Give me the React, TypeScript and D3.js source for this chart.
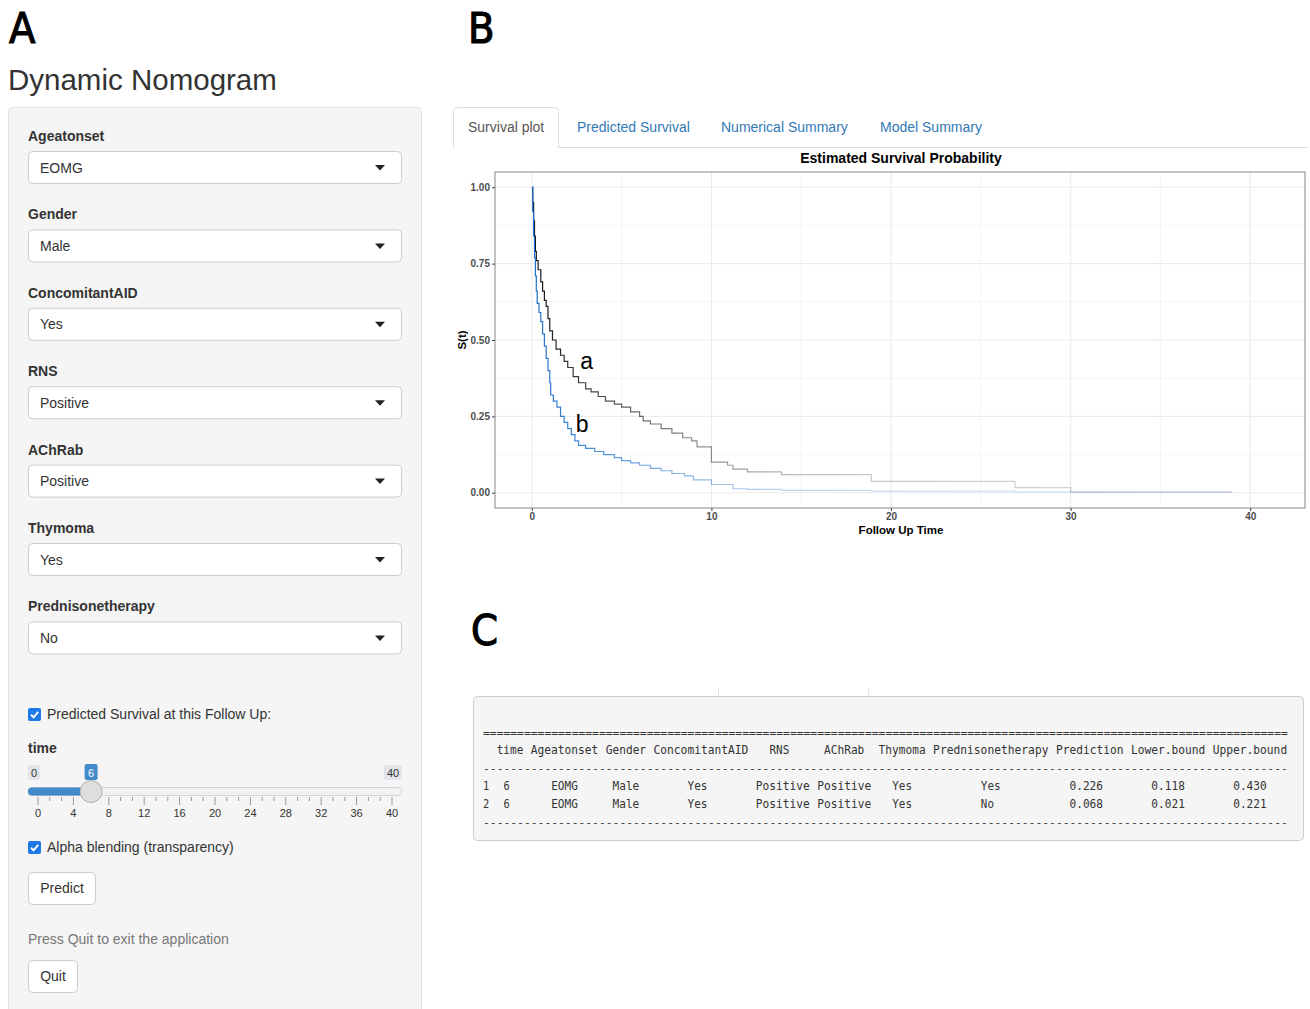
import { useEffect, useRef } from "react";
import * as d3 from "d3";

const W = 1310;
const H = 1009;

const inputLabels = ["Ageatonset", "Gender", "ConcomitantAID", "RNS", "AChRab", "Thymoma", "Prednisonetherapy"];
const inputValues = ["EOMG", "Male", "Yes", "Positive", "Positive", "Yes", "No"];
const sliderTicks = [0, 4, 8, 12, 16, 20, 24, 28, 32, 36, 40];
const sliderValue = 6;
const tabNames = ["Survival plot", "Predicted Survival", "Numerical Summary", "Model Summary"];
const xTicks = [0, 10, 20, 30, 40];
const yTicks = [0, 0.25, 0.5, 0.75, 1];

// step curves: [follow up time, S(t)]
const curveA: [number, number][] = [
  [0, 1.0], [0.05, 0.95], [0.1, 0.89], [0.15, 0.84], [0.2, 0.79], [0.25, 0.76], [0.35, 0.73],
  [0.5, 0.69], [0.6, 0.66], [0.7, 0.63], [0.8, 0.61], [0.9, 0.57], [1.0, 0.53], [1.15, 0.5],
  [1.35, 0.47], [1.6, 0.45], [1.8, 0.43], [2.0, 0.41], [2.3, 0.38], [2.6, 0.36], [3.0, 0.34],
  [3.3, 0.33], [3.7, 0.315], [4.1, 0.3], [4.6, 0.29], [5.0, 0.28], [5.5, 0.265], [6.0, 0.25],
  [6.2, 0.235], [6.6, 0.225], [7.2, 0.21], [7.8, 0.195], [8.4, 0.18], [8.9, 0.17], [9.2, 0.15],
  [10.0, 0.1], [10.9, 0.09], [11.2, 0.077], [12.0, 0.068], [13.9, 0.059], [18.9, 0.037],
  [26.9, 0.017], [30.0, 0.003], [39.0, 0.003],
];
const curveB: [number, number][] = [
  [0, 1.0], [0.05, 0.92], [0.1, 0.84], [0.15, 0.77], [0.2, 0.71], [0.25, 0.66], [0.3, 0.62],
  [0.4, 0.59], [0.5, 0.56], [0.6, 0.52], [0.7, 0.48], [0.8, 0.44], [0.9, 0.4], [1.0, 0.36],
  [1.05, 0.32], [1.2, 0.3], [1.4, 0.28], [1.6, 0.25], [1.8, 0.23], [2.0, 0.21], [2.2, 0.19],
  [2.4, 0.17], [2.6, 0.155], [3.0, 0.145], [3.5, 0.135], [4.0, 0.125], [4.6, 0.115], [5.0, 0.105],
  [5.5, 0.098], [6.0, 0.09], [6.6, 0.08], [7.2, 0.072], [7.8, 0.063], [8.5, 0.055], [9.0, 0.042],
  [10.0, 0.027], [11.2, 0.013], [12.0, 0.011], [13.9, 0.008], [18.9, 0.005], [26.9, 0.003],
  [30.0, 0.001], [39.0, 0.001],
];

const tableHeader = ["time", "Ageatonset", "Gender", "ConcomitantAID", "RNS", "AChRab", "Thymoma", "Prednisonetherapy", "Prediction", "Lower.bound", "Upper.bound"];
const tableRows = [
  ["1", "6", "EOMG", "Male", "Yes", "Positive", "Positive", "Yes", "Yes", "0.226", "0.118", "0.430"],
  ["2", "6", "EOMG", "Male", "Yes", "Positive", "Positive", "Yes", "No", "0.068", "0.021", "0.221"],
];

const sans = "'Liberation Sans', Arial, Helvetica, sans-serif";
const narrow = "'Liberation Sans Narrow', 'DejaVu Sans Condensed', 'Liberation Sans', sans-serif";
const mono = "'DejaVu Sans Mono', 'Liberation Mono', monospace";

const Checkbox = ({ x, y }: { x: number; y: number }) => (
  <g transform={`translate(${x},${y})`}>
    <rect width={13} height={13} rx={2} fill="#1e78e6" />
    <path d="M3,6.8 L5.6,9.3 L10.2,3.8" fill="none" stroke="#fff" strokeWidth={1.9} />
  </g>
);

const SurvivalPlot = () => {
  const ref = useRef<SVGGElement>(null);

  useEffect(() => {
    const g = d3.select(ref.current).html("");
    const x = d3.scaleLinear().domain([-2.05, 43.05]).range([495, 1305]);
    const y = d3.scaleLinear().domain([-0.05, 1.05]).range([508, 172]);
    const alphaStops = [[0, 1], [3, 0.8], [6, 0.62], [10, 0.45], [14, 0.3], [20, 0.22], [40, 0.15]];

    const defs = g.append("defs");
    [["gradA", "#111111"], ["gradB", "#1c6fce"]].forEach(([id, col]) => {
      const lg = defs
        .append("linearGradient")
        .attr("id", id)
        .attr("gradientUnits", "userSpaceOnUse")
        .attr("x1", x(0))
        .attr("x2", x(40))
        .attr("y1", 0)
        .attr("y2", 0);
      alphaStops.forEach(([t, o]) => {
        lg.append("stop").attr("offset", t / 40).attr("stop-color", col).attr("stop-opacity", o);
      });
    });

    g.append("text")
      .attr("x", 901)
      .attr("y", 163)
      .attr("text-anchor", "middle")
      .attr("font-family", sans)
      .attr("font-weight", "bold")
      .attr("font-size", 14)
      .text("Estimated Survival Probability");

    g.append("rect").attr("x", 495).attr("y", 172).attr("width", 810).attr("height", 336).attr("fill", "#fff");

    const minorX = [5, 15, 25, 35];
    const minorY = [0.125, 0.375, 0.625, 0.875];
    g.selectAll(".gxm").data(minorX).enter().append("line")
      .attr("x1", (d) => x(d)).attr("x2", (d) => x(d)).attr("y1", 172).attr("y2", 508)
      .attr("stroke", "#f2f2f2").attr("stroke-width", 0.8);
    g.selectAll(".gym").data(minorY).enter().append("line")
      .attr("x1", 495).attr("x2", 1305).attr("y1", (d) => y(d)).attr("y2", (d) => y(d))
      .attr("stroke", "#f2f2f2").attr("stroke-width", 0.8);
    g.selectAll(".gx").data(xTicks).enter().append("line")
      .attr("x1", (d) => x(d)).attr("x2", (d) => x(d)).attr("y1", 172).attr("y2", 508)
      .attr("stroke", "#ebebeb").attr("stroke-width", 1.1);
    g.selectAll(".gy").data(yTicks).enter().append("line")
      .attr("x1", 495).attr("x2", 1305).attr("y1", (d) => y(d)).attr("y2", (d) => y(d))
      .attr("stroke", "#ebebeb").attr("stroke-width", 1.1);

    const line = d3
      .line<[number, number]>()
      .x((d) => x(d[0]))
      .y((d) => y(d[1]))
      .curve(d3.curveStepAfter);

    g.append("path").attr("d", line(curveA)).attr("fill", "none").attr("stroke", "url(#gradA)").attr("stroke-width", 1.2);
    g.append("path").attr("d", line(curveB)).attr("fill", "none").attr("stroke", "url(#gradB)").attr("stroke-width", 1.2);

    g.append("rect")
      .attr("x", 495).attr("y", 172).attr("width", 810).attr("height", 336)
      .attr("fill", "none").attr("stroke", "#9a9a9a").attr("stroke-width", 1.2);

    const xAxis = g.append("g").attr("transform", "translate(0,508)")
      .call(d3.axisBottom(x).tickValues(xTicks).tickSize(3).tickPadding(2).tickFormat(d3.format("d")));
    const yAxis = g.append("g").attr("transform", "translate(495,0)")
      .call(d3.axisLeft(y).tickValues(yTicks).tickSize(3).tickPadding(2).tickFormat(d3.format(".2f")));
    [xAxis, yAxis].forEach((a) => {
      a.attr("font-size", null).attr("font-family", null);
      a.select(".domain").remove();
      a.selectAll("line").attr("stroke", "#333").attr("stroke-width", 0.9);
      a.selectAll("text")
        .style("font-family", sans)
        .style("font-size", "10px")
        .style("font-weight", "bold")
        .attr("fill", "#4d4d4d");
    });

    g.append("text")
      .attr("x", 901).attr("y", 534)
      .attr("text-anchor", "middle")
      .attr("font-family", sans).attr("font-weight", "bold").attr("font-size", 11.5)
      .text("Follow Up Time");
    g.append("text")
      .attr("transform", `translate(466,${y(0.5)}) rotate(-90)`)
      .attr("text-anchor", "middle")
      .attr("font-family", sans).attr("font-weight", "bold").attr("font-size", 11.5)
      .text("S(t)");

    g.append("text").attr("x", x(2.7)).attr("y", y(0.405)).attr("font-family", sans).attr("font-size", 23).text("a");
    g.append("text").attr("x", x(2.45)).attr("y", y(0.2)).attr("font-family", sans).attr("font-size", 23).text("b");
  }, []);

  return <g ref={ref} />;
};

const Slider = () => {
  const sx = d3.scaleLinear().domain([0, 40]).range([38, 392]);
  const minor: number[] = [];
  sliderTicks.slice(0, -1).forEach((v, i) => {
    const step = (sliderTicks[i + 1] - v) / 3;
    minor.push(v + step, v + 2 * step);
  });
  const hx = sx(sliderValue);
  return (
    <g fontFamily={sans}>
      <rect x={28} y={765} width={12} height={15} rx={2} fill="#e1e4e9" />
      <text x={34} y={776.5} fontSize={11} textAnchor="middle" fill="#333">0</text>
      <rect x={384} y={765} width={18} height={15} rx={2} fill="#e1e4e9" />
      <text x={393} y={776.5} fontSize={11} textAnchor="middle" fill="#333">40</text>
      <rect x={hx - 6.5} y={764} width={13} height={16} rx={2} fill="#428bca" />
      <text x={hx} y={776.5} fontSize={11} textAnchor="middle" fill="#fff">{sliderValue}</text>
      <rect x={28} y={787.5} width={374} height={8} rx={4} fill="#f1f1f1" stroke="#d3d3d3" />
      <rect x={28} y={787.5} width={hx - 28} height={8} rx={4} fill="#428bca" />
      {minor.map((v) => (
        <line key={`m${v}`} x1={sx(v)} x2={sx(v)} y1={797} y2={801} stroke="#999" />
      ))}
      {sliderTicks.map((v) => (
        <g key={v}>
          <line x1={sx(v)} x2={sx(v)} y1={797} y2={805} stroke="#999" />
          <text x={sx(v)} y={817} fontSize={11} textAnchor="middle" fill="#333">{v}</text>
        </g>
      ))}
      <circle cx={hx} cy={791.5} r={11} fill="#dedede" stroke="#b0b0b0" />
    </g>
  );
};

const App = () => {
  const headerCols = [2, 7, 18, 25, 42, 50, 58, 66, 84, 95, 107];
  const rowCols = [0, 3, 10, 19, 30, 40, 49, 60, 73, 86, 98, 110];
  const cw = 6.82;
  const tx = 483;
  const tabX = [468, 577, 721, 880];
  const cell = (s: string, col: number, yy: number, key: string) => (
    <text key={key} x={tx + col * cw} y={yy} textLength={s.length * cw - 0.6} lengthAdjust="spacingAndGlyphs">{s}</text>
  );

  return (
    <svg width={W} height={H} style={{ position: "absolute", left: 0, top: 0, background: "#fff" }}>
      <rect width={W} height={H} fill="#fff" />
      <g fontFamily={narrow} fontSize={43} stroke="#000" strokeWidth={1.1}>
        <text x={9} y={43}>A</text>
        <text x={468} y={43}>B</text>
        <text x={471} y={645}>C</text>
      </g>

      <text x={8} y={90} fontFamily={sans} fontSize={29.5} fill="#333">Dynamic Nomogram</text>

      {/* sidebar */}
      <rect x={8.5} y={107.5} width={413} height={930} rx={4} fill="#f5f5f5" stroke="#e3e3e3" />
      {inputLabels.map((lab, i) => {
        const y0 = 141 + i * 78.4;
        return (
          <g key={lab} fontFamily={sans}>
            <text x={28} y={y0} fontSize={14} fontWeight="bold" fill="#333">{lab}</text>
            <rect x={28.5} y={y0 + 10.5} width={373} height={32} rx={4} fill="#fff" stroke="#ccc" />
            <text x={40} y={y0 + 31.5} fontSize={14} fill="#333">{inputValues[i]}</text>
            <path d={`M${375},${y0 + 24} h10 l-5,5.5 z`} fill="#222" />
          </g>
        );
      })}

      <Checkbox x={28} y={708} />
      <text x={47} y={719} fontFamily={sans} fontSize={14} fill="#333">Predicted Survival at this Follow Up:</text>
      <text x={28} y={753} fontFamily={sans} fontSize={14} fontWeight="bold" fill="#333">time</text>
      <Slider />
      <Checkbox x={28} y={841} />
      <text x={47} y={852} fontFamily={sans} fontSize={14} fill="#333">Alpha blending (transparency)</text>
      <rect x={28.5} y={872.5} width={67} height={32} rx={4} fill="#fff" stroke="#ccc" />
      <text x={62} y={893} fontFamily={sans} fontSize={14} textAnchor="middle" fill="#333">Predict</text>
      <text x={28} y={944} fontFamily={sans} fontSize={14} fill="#777">Press Quit to exit the application</text>
      <rect x={28.5} y={960.5} width={49} height={32} rx={4} fill="#fff" stroke="#ccc" />
      <text x={53} y={981} fontFamily={sans} fontSize={14} textAnchor="middle" fill="#333">Quit</text>

      {/* tabs */}
      <line x1={558} x2={1308} y1={147.5} y2={147.5} stroke="#ddd" />
      <path d="M453.5,148 V111.5 Q453.5,107.5 457.5,107.5 H554.5 Q558.5,107.5 558.5,111.5 V148" fill="#fff" stroke="#ddd" />
      {tabNames.map((t, i) => (
        <text key={t} x={tabX[i]} y={131.5} fontFamily={sans} fontSize={14} fill={i === 0 ? "#555" : "#337ab7"}>{t}</text>
      ))}

      <SurvivalPlot />

      {/* summary table */}
      <line x1={718.5} x2={718.5} y1={688} y2={696} stroke="#e6e6e6" />
      <line x1={868.5} x2={868.5} y1={688} y2={696} stroke="#e6e6e6" />
      <rect x={473.5} y={696.5} width={830} height={144} rx={4} fill="#f5f5f5" stroke="#ccc" />
      <g fontFamily={mono} fill="#333">
        <g fontSize={11.33}>
          <text x={tx} y={737}>{"=".repeat(118)}</text>
          <text x={tx} y={772}>{"-".repeat(118)}</text>
          <text x={tx} y={826}>{"-".repeat(118)}</text>
        </g>
        <g fontSize={12.3}>
          {tableHeader.map((h, i) => cell(h, headerCols[i], 754, `h${i}`))}
          {tableRows.map((row, r) => row.map((c, i) => cell(c, rowCols[i], 790 + r * 18, `${r}-${i}`)))}
        </g>
      </g>
    </svg>
  );
};

export default App;
